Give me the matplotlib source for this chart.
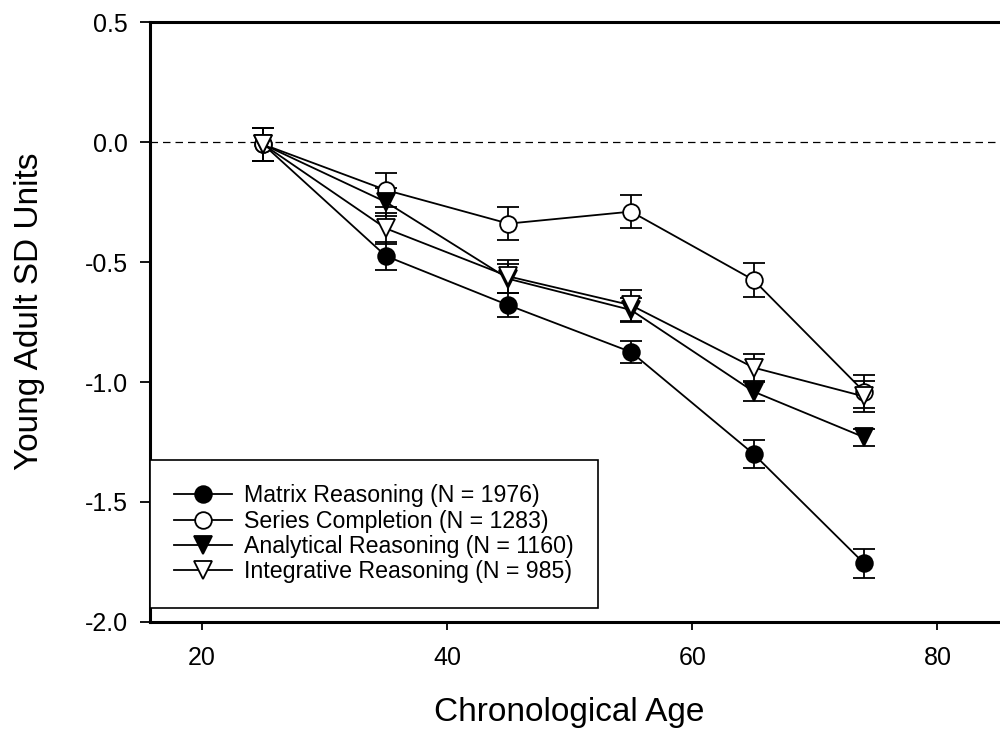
import matplotlib.pyplot as plt

plt.rcParams["font.family"] = ["Liberation Sans", "DejaVu Sans"]

ages = [25, 35, 45, 55, 65, 74]

matrix = [-0.01, -0.475, -0.68, -0.875, -1.30, -1.755]
series = [-0.01, -0.20, -0.34, -0.29, -0.575, -1.04]
analytical = [-0.01, -0.25, -0.57, -0.70, -1.04, -1.23]
integrative = [-0.01, -0.36, -0.56, -0.68, -0.94, -1.06]

matrix_err = [0.07, 0.06, 0.05, 0.045, 0.06, 0.06]
series_err = [0.07, 0.07, 0.07, 0.07, 0.07, 0.07]
analytical_err = [0.07, 0.06, 0.06, 0.05, 0.04, 0.035]
integrative_err = [0.07, 0.065, 0.07, 0.065, 0.055, 0.065]

labels = ["Matrix Reasoning (N = 1976)", "Series Completion (N = 1283)",
          "Analytical Reasoning (N = 1160)", "Integrative Reasoning (N = 985)"]

fig = plt.figure(figsize=(10, 7.34), dpi=100)
ax = fig.add_axes([0.150, 0.1526, 0.850, 0.8174])

ax.axhline(0, color="black", linewidth=0.9, linestyle=(0, (6, 4)), zorder=1)

styles = [
    (matrix, matrix_err, "o", "black"),
    (series, series_err, "o", "white"),
    (analytical, analytical_err, "v", "black"),
    (integrative, integrative_err, "v", "white"),
]
handles = []
for (vals, err, mk, fc), lab in zip(styles, labels):
    h = ax.errorbar(ages, vals, yerr=err, color="black", linewidth=1.3,
                    marker=mk, markersize=12 if mk == "o" else 13,
                    markerfacecolor=fc, markeredgecolor="black", markeredgewidth=1.3,
                    ecolor="black", elinewidth=1.3, capsize=8, capthick=1.5,
                    label=lab, zorder=3)
    handles.append(h[0])

ax.set_xlim(15.76, 85.1)
ax.set_ylim(-2.0, 0.5)
ax.set_xticks([20, 40, 60, 80])
ax.set_yticks([0.5, 0.0, -0.5, -1.0, -1.5, -2.0])
ax.set_yticklabels(["0.5", "0.0", "-0.5", "-1.0", "-1.5", "-2.0"])
ax.tick_params(axis="both", labelsize=18, direction="out", width=1.3)
ax.tick_params(axis="y", length=7, pad=9)
ax.tick_params(axis="x", length=6, pad=11)

for side in ["left", "top", "bottom"]:
    ax.spines[side].set_linewidth(2.2)
ax.spines["right"].set_visible(False)

ax.set_xlabel("Chronological Age", fontsize=24)
ax.set_ylabel("Young Adult SD Units", fontsize=24)
ax.xaxis.set_label_coords(0.4935, -0.125)
ax.yaxis.set_label_coords(-0.1235, 0.518)

leg = fig.legend(handles=handles, labels=labels, loc="upper left",
                 bbox_to_anchor=(0.150, 0.3733), fontsize=16.7, frameon=True,
                 fancybox=False, edgecolor="black", framealpha=1,
                 handlelength=2.5, handletextpad=0.5, labelspacing=0.1,
                 borderpad=1.05, borderaxespad=0)
leg.get_frame().set_linewidth(1.2)

fig.savefig("out.png", dpi=100)
